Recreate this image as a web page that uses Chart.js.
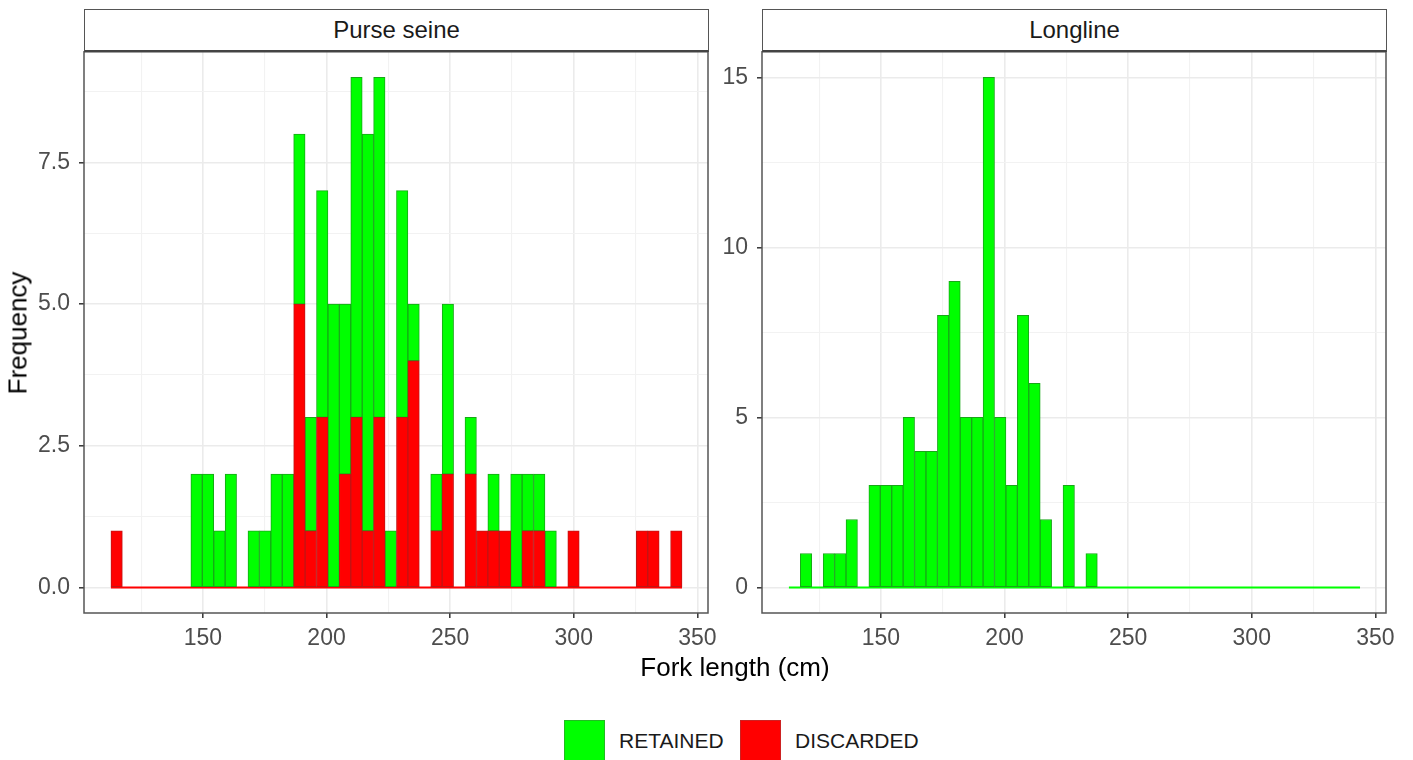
<!DOCTYPE html>
<html>
<head>
<meta charset="utf-8">
<script src="https://cdn.jsdelivr.net/npm/chart.js@4.4.1/dist/chart.umd.min.js"></script>
<style>
  body { margin: 0; background: #fff; font-family: "Liberation Sans", Arial, sans-serif; }
  #fig { position: relative; width: 1413px; height: 760px; overflow: hidden; background: #fff; }
  .strip { position: absolute; top: 9px; width: 625px; height: 43px; box-sizing: border-box;
           border: 1.5px solid #555; border-bottom: 2px solid #444; background: #fff;
           color: #1a1a1a; font-size: 24px; display: flex; align-items: center; justify-content: center; z-index: 2; }
  canvas { position: absolute; top: 29px; }
  .key { position: absolute; top: 720px; width: 41px; height: 41px; box-sizing: border-box; }
  .lab { position: absolute; top: 728px; font-size: 21px; color: #1a1a1a; line-height: 26px; }
  #xtitle { position: absolute; left: 0; width: 1470px; top: 652px; text-align: center; font-size: 26px; color: #000; }
  #ytitle { position: absolute; left: 18px; top: 333px; font-size: 26px; color: #000;
            transform: translate(-50%, -50%) rotate(-90deg); white-space: nowrap; }
</style>
</head>
<body>
<div id="fig">
  <div class="strip" style="left:84px">Purse seine</div>
  <div class="strip" style="left:762px">Longline</div>
  <canvas id="purse" width="730" height="634" style="left:0px"></canvas>
  <canvas id="long" width="730" height="634" style="left:678px"></canvas>
  <div id="xtitle">Fork length (cm)</div>
  <div id="ytitle">Frequency</div>
  <div class="key" style="left:564px;background:#00ff00;border:1.5px solid #22bb22"></div>
  <div class="lab" style="left:619px">RETAINED</div>
  <div class="key" style="left:740px;background:#ff0000;border:1.5px solid #cc2222"></div>
  <div class="lab" style="left:795px">DISCARDED</div>
</div>
<script>
// bin mids of fork length (cm), 50 bins
const binMid = [115.10, 119.72, 124.34, 128.96, 133.58, 138.20, 142.82, 147.44, 152.06, 156.68,
                161.30, 165.92, 170.54, 175.16, 179.78, 184.40, 189.02, 193.64, 198.26, 202.88,
                207.50, 212.12, 216.74, 221.36, 225.98, 230.60, 235.22, 239.84, 244.46, 249.08,
                253.70, 258.32, 262.94, 267.56, 272.18, 276.80, 281.42, 286.04, 290.66, 295.28,
                299.90, 304.52, 309.14, 313.76, 318.38, 323.00, 327.62, 332.24, 336.86, 341.48];

const purseDiscarded = [1,0,0,0,0,0,0,0,0,0, 0,0,0,0,0,0,5,1,3,0, 2,3,1,3,0,3,4,0,1,2,
                        0,2,1,1,1,0,1,1,0,0, 1,0,0,0,0,0,1,1,0,1];
const purseRetained  = [0,0,0,0,0,0,0,2,2,1, 2,0,1,1,2,2,3,2,4,5, 3,6,7,6,1,4,1,0,1,3,
                        0,1,0,1,0,2,1,1,1,0, 0,0,0,0,0,0,0,0,0,0];
const longRetained   = [0,1,0,1,1,2,0,3,3,3, 5,4,4,8,9,5,5,15,5,3, 8,6,2,0,3,0,1,0,0,0,
                        0,0,0,0,0,0,0,0,0,0, 0,0,0,0,0,0,0,0,0,0];

const xBreaks = [150, 200, 250, 300, 350];
const xMinor = [125, 175, 225, 275, 325];
const purseBreaks = [0, 2.5, 5, 7.5];
const purseMinor = [1.25, 3.75, 6.25, 8.75];
const longBreaks = [0, 5, 10, 15];
const longMinor = [2.5, 7.5, 12.5];

const GREEN = '#00ff00', GREEN_LINE = '#17a817';
const RED = '#ff0000', RED_LINE = '#c01515';
const FONT = '"Liberation Sans", Arial, sans-serif';

/** frame round the panel */
const frame = {
  id: 'frame',
  afterDraw(chart) {
    const {ctx, chartArea: a} = chart;
    ctx.save();
    ctx.strokeStyle = '#555';
    ctx.lineWidth = 1.5;
    ctx.strokeRect(a.left, a.top, a.right - a.left, a.bottom - a.top);
    ctx.restore();
  }
};

function pts(vals) {
  return vals.map((v, i) => ({x: binMid[i], y: v}));
}

function baseline(color) {
  const w = binMid[1] - binMid[0];
  return {
    type: 'line',
    data: [{x: binMid[0] - w / 2, y: 0}, {x: binMid[binMid.length - 1] + w / 2, y: 0}],
    borderColor: color, borderWidth: 2, pointRadius: 0, order: 1
  };
}

function bars(vals, fill, line) {
  return {
    type: 'bar', data: pts(vals),
    backgroundColor: fill, borderColor: line, borderWidth: 1, borderSkipped: false,
    barPercentage: 1, categoryPercentage: 1, order: 0
  };
}

function gridOpts(major) {
  return {
    color: c => major.includes(c.tick.value) ? '#ebebeb' : '#f2f2f2',
    lineWidth: c => major.includes(c.tick.value) ? 1.6 : 1.1,
    tickColor: c => major.includes(c.tick.value) ? '#333' : 'rgba(0,0,0,0)',
    tickLength: 5, tickWidth: 1.5, offset: false
  };
}

function makePanel(id, datasets, yMin, yMax, yBreaks, yMinor, fmt) {
  new Chart(document.getElementById(id), {
    data: {datasets: datasets},
    options: {
      responsive: false, animation: false,
      layout: {padding: {top: 16, right: 22, left: 0, bottom: 0}},
      plugins: {legend: {display: false}, tooltip: {enabled: false}},
      scales: {
        x: {
          type: 'linear', min: 101.9, max: 354.3, offset: false, bounds: 'data', stacked: true,
          afterBuildTicks: s => { s.ticks = xMinor.concat(xBreaks).sort((a, b) => a - b).map(v => ({value: v})); },
          afterFit: s => { s.height = 50; },
          grid: gridOpts(xBreaks),
          border: {display: false},
          ticks: {autoSkip: false, maxRotation: 0, padding: 7, color: '#4d4d4d', font: {family: FONT, size: 23},
                  callback: v => xBreaks.includes(v) ? String(v) : ''}
        },
        y: {
          type: 'linear', min: yMin, max: yMax, bounds: 'data', stacked: true,
          afterBuildTicks: s => { s.ticks = yMinor.concat(yBreaks).sort((a, b) => a - b).map(v => ({value: v})); },
          afterFit: s => { s.width = 84; },
          grid: gridOpts(yBreaks),
          border: {display: false},
          ticks: {autoSkip: false, padding: 9, color: '#4d4d4d', font: {family: FONT, size: 23},
                  callback: v => yBreaks.includes(v) ? fmt(v) : ''}
        }
      }
    },
    plugins: [frame]
  });
}

makePanel('purse',
  [bars(purseDiscarded, RED, RED_LINE), bars(purseRetained, GREEN, GREEN_LINE), baseline(RED)],
  -0.45, 9.45, purseBreaks, purseMinor, v => v.toFixed(1));

makePanel('long',
  [bars(longRetained, GREEN, GREEN_LINE), baseline(GREEN)],
  -0.75, 15.75, longBreaks, longMinor, v => String(v));
</script>
</body>
</html>
